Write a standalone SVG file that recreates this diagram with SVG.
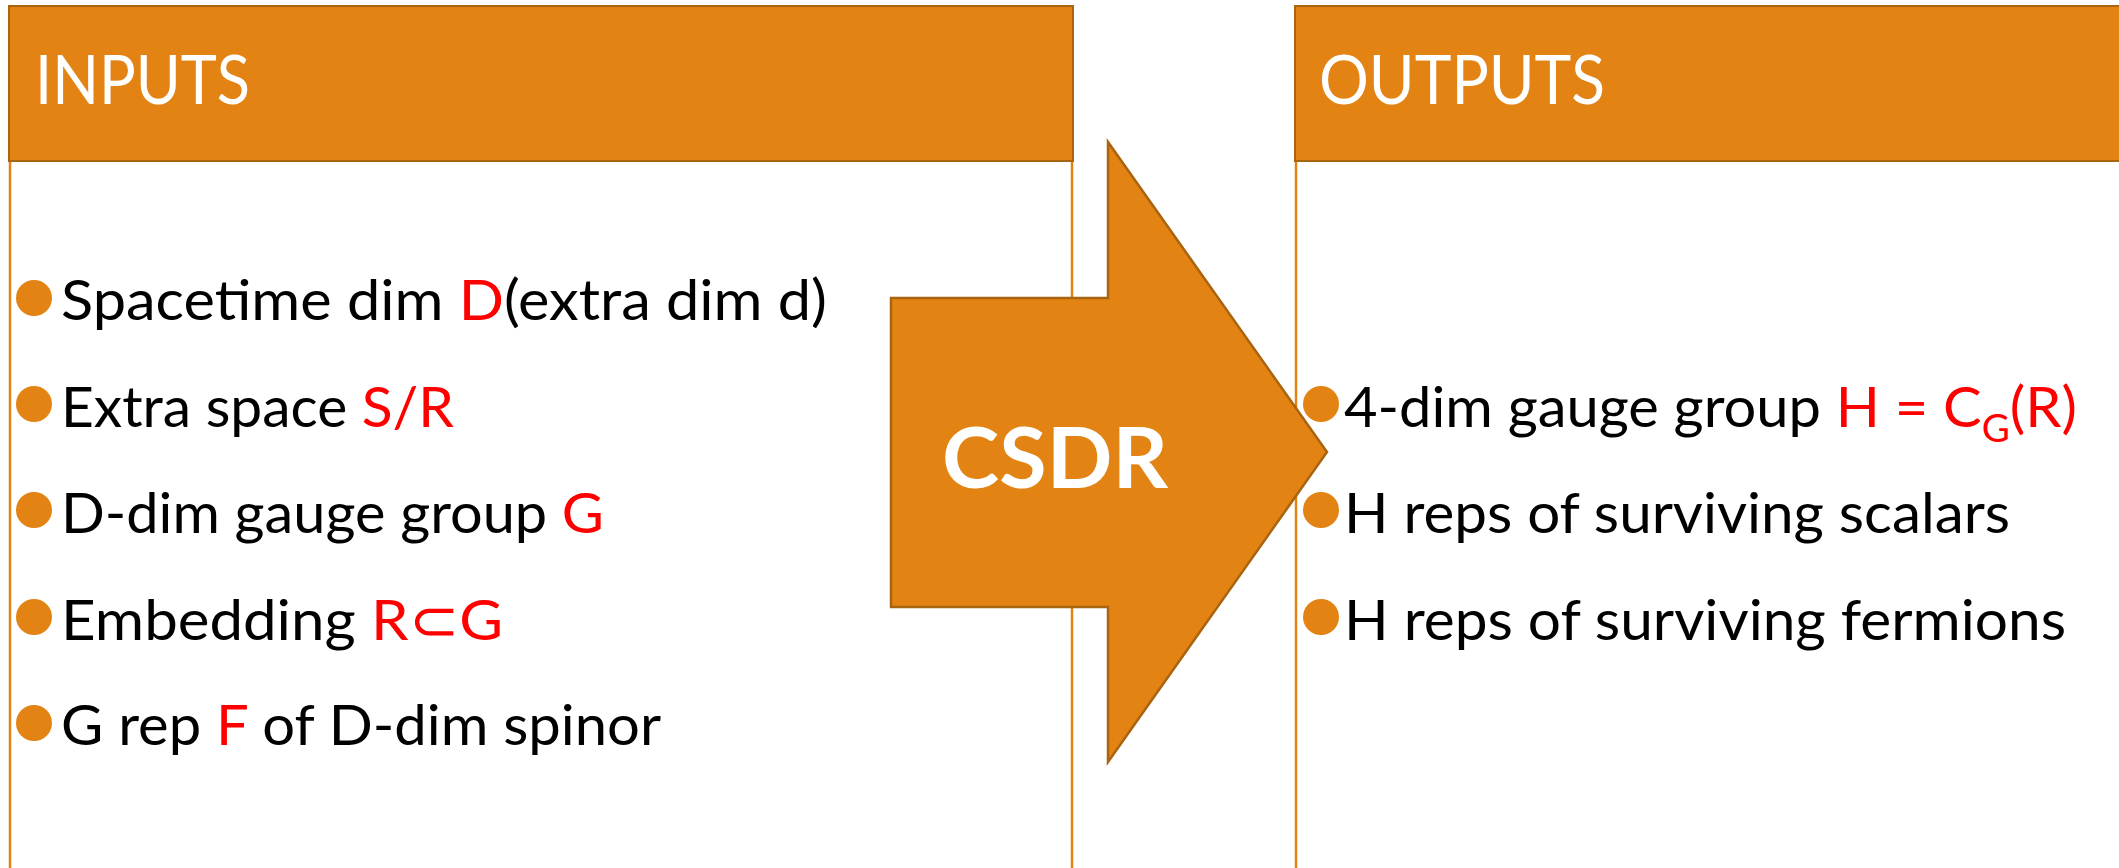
<svg xmlns="http://www.w3.org/2000/svg" width="2119" height="868" viewBox="0 0 2119 868">
<style>
.hdr{fill:#E38313;stroke:#A8640F;stroke-width:2}
.body{stroke:#E38313;stroke-width:2.5;fill:none}
.ht{font-family:Lato,"Open Sans",sans-serif;font-size:68px;fill:#fff}
.t{font-family:Lato,"Open Sans",sans-serif;font-size:57px;fill:#000}
.r{fill:#FF0000}
.b{fill:#E38313}
.csdr{font-family:Lato,"Open Sans",sans-serif;font-size:84px;font-weight:bold;fill:#fff}
</style>
<rect width="2119" height="868" fill="#fff"/>
<g id="inputs">
<line class="body" x1="10" y1="160" x2="10" y2="868"/>
<line class="body" x1="1072" y1="160" x2="1072" y2="868"/>
<rect class="hdr" x="9" y="6" width="1064" height="155"/>
<text class="ht" x="35" y="104" textLength="215" lengthAdjust="spacingAndGlyphs">INPUTS</text>
<circle class="b" cx="34" cy="298" r="18"/>
<text class="t" x="61" y="320" textLength="766" lengthAdjust="spacingAndGlyphs">Spacetime dim <tspan class="r">D</tspan>(extra dim d)</text>
<circle class="b" cx="34" cy="404" r="18"/>
<text class="t" x="61" y="427" textLength="393" lengthAdjust="spacingAndGlyphs">Extra space <tspan class="r">S/R</tspan></text>
<circle class="b" cx="34" cy="510" r="18"/>
<text class="t" x="61" y="533" textLength="543" lengthAdjust="spacingAndGlyphs">D-dim gauge group <tspan class="r">G</tspan></text>
<circle class="b" cx="34" cy="617" r="18"/>
<text class="t" x="61" y="640" textLength="442" lengthAdjust="spacingAndGlyphs">Embedding <tspan class="r">R⊂G</tspan></text>
<circle class="b" cx="34" cy="723" r="18"/>
<text class="t" x="61" y="745" textLength="600" lengthAdjust="spacingAndGlyphs">G rep <tspan class="r">F</tspan> of D-dim spinor</text>
</g>
<g id="outputs">
<line class="body" x1="1296" y1="160" x2="1296" y2="868"/>
<rect class="hdr" x="1295" y="6" width="840" height="155"/>
<text class="ht" x="1319" y="104" textLength="286" lengthAdjust="spacingAndGlyphs">OUTPUTS</text>
<circle class="b" cx="1321" cy="404" r="18"/>
<text class="t" x="1344" y="427" textLength="733" lengthAdjust="spacingAndGlyphs">4-dim gauge group <tspan class="r">H = C</tspan><tspan class="r" dy="15" font-size="38">G</tspan><tspan class="r" dy="-15">(R)</tspan></text>
<circle class="b" cx="1321" cy="510" r="18"/>
<text class="t" x="1344" y="533" textLength="666" lengthAdjust="spacingAndGlyphs">H reps of surviving scalars</text>
<circle class="b" cx="1321" cy="617" r="18"/>
<text class="t" x="1344" y="640" textLength="722" lengthAdjust="spacingAndGlyphs">H reps of surviving fermions</text>
</g>
<g id="connectors">
<g id="csdr-arrow">
<polygon points="891,298 1108,298 1108,142 1327,452 1108,762 1108,607 891,607" fill="#E38313" stroke="#A8640F" stroke-width="2.5" stroke-linejoin="miter"/>
<text class="csdr" x="942" y="488" textLength="226" lengthAdjust="spacingAndGlyphs">CSDR</text>
</g>
</g>
</svg>
